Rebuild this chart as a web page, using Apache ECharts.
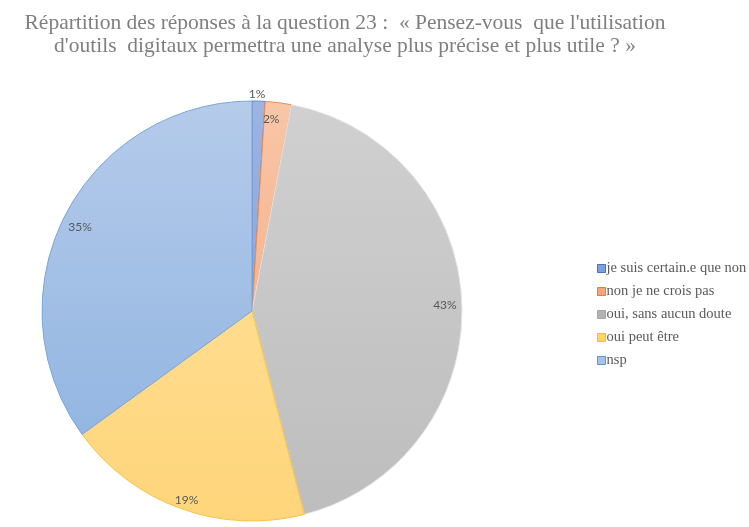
<!DOCTYPE html>
<html>
<head>
<meta charset="utf-8">
<script src="https://cdn.jsdelivr.net/npm/echarts@6/dist/echarts.min.js"></script>
<style>
  html, body { margin: 0; padding: 0; background: #fff; }
  #chart { width: 749px; height: 527px; }
</style>
</head>
<body>
<div id="chart"></div>
<script>
// données
var categories = ['je suis certain.e que non', 'non je ne crois pas', 'oui, sans aucun doute', 'oui peut être', 'nsp'];
var values = [1, 2, 43, 19, 35];

// couleurs des parts : haut, bas, bordure
var topColors = ['#9db4e2', '#f9c6a8', '#d0d0d0', '#ffdc8e', '#b5cbea'];
var bottomColors = ['#8aa6dc', '#f5b48e', '#bdbdbd', '#ffd57a', '#93b6e2'];
var borderColors = ['#5b84cc', '#ef8a4f', '#e3e3e3', '#f7c340', '#7aa6dc'];
var legendColors = ['#7f9fd8', '#f4a57a', '#b3b3b3', '#ffd65e', '#a5c2e8'];
var legendBorders = ['#4472c4', '#ed7d31', '#a5a5a5', '#ffc000', '#5b9bd5'];

var chart = echarts.init(document.getElementById('chart'));

var pieData = categories.map(function (name, i) {
    return {
        name: name,
        value: values[i],
        itemStyle: {
            color: new echarts.graphic.LinearGradient(0, 0, 0, 1, [
                { offset: 0, color: topColors[i] },
                { offset: 1, color: bottomColors[i] }
            ]),
            borderColor: borderColors[i],
            borderWidth: 1
        }
    };
});

var labelData = categories.map(function (name, i) {
    return { name: name, value: values[i] };
});

chart.setOption({
    animation: false,
    title: {
        text: "Répartition des réponses à la question 23 :  « Pensez-vous  que l'utilisation\nd'outils  digitaux permettra une analyse plus précise et plus utile ? »",
        left: 340,
        top: 7,
        textAlign: 'center',
        textStyle: {
            fontFamily: 'Liberation Serif',
            fontSize: 21.5,
            fontWeight: 'normal',
            color: '#7f7f7f',
            lineHeight: 23,
            align: 'center'
        }
    },
    legend: {
        orient: 'vertical',
        left: 592,
        top: 256,
        itemWidth: 8,
        itemHeight: 8,
        itemGap: 8,
        icon: 'rect',
        selectedMode: false,
        textStyle: {
            fontFamily: 'Liberation Serif',
            fontSize: 14.5,
            color: '#595959',
            lineHeight: 15,
            padding: [0, 0, 0, -4]
        },
        data: categories.map(function (name, i) {
            return {
                name: name,
                itemStyle: { color: legendColors[i], borderColor: legendBorders[i], borderWidth: 1 }
            };
        })
    },
    series: [
        {
            type: 'pie',
            center: [252, 311],
            radius: [0, 210],
            startAngle: 90,
            clockwise: true,
            silent: true,
            label: { show: false },
            labelLine: { show: false },
            data: pieData
        },
        {
            // anneau transparent pour placer les étiquettes près du bord
            type: 'pie',
            center: [252, 311],
            radius: [175, 205],
            startAngle: 90,
            clockwise: true,
            silent: true,
            itemStyle: { color: 'rgba(0,0,0,0)' },
            label: {
                show: true,
                position: 'inside',
                formatter: '{c}%',
                fontFamily: 'Lato',
                fontSize: 12,
                color: '#595959'
            },
            labelLine: { show: false },
            labelLayout: function (params) {
                if (params.dataIndex === 0) {
                    return { dx: -1, dy: -24 };
                }
                if (params.dataIndex === 1) {
                    return { dx: -5 };
                }
                if (params.dataIndex === 3) {
                    return { dy: 8 };
                }
                if (params.dataIndex === 4) {
                    return { dy: 4 };
                }
                return {};
            },
            data: labelData
        }
    ]
});
</script>
</body>
</html>
